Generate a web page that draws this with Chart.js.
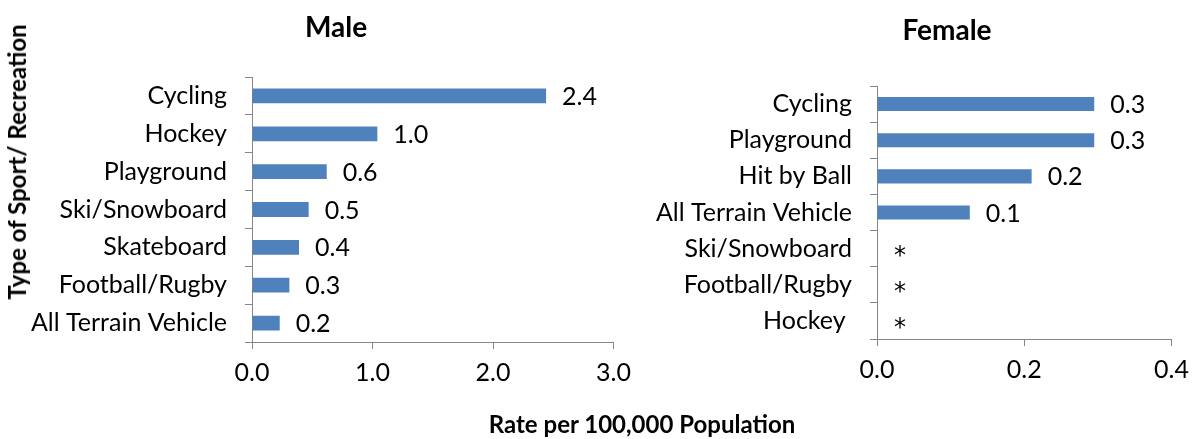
<!DOCTYPE html>
<html>
<head>
<meta charset="utf-8">
<script src="https://cdn.jsdelivr.net/npm/chart.js@4/dist/chart.umd.min.js"></script>
<style>
  body { margin: 0; background: #fff; }
  #wrap { position: relative; width: 1198px; height: 439px; overflow: hidden; font-family: Lato, sans-serif; color: #000; }
  canvas { position: absolute; top: 0; }
  .ttl { position: absolute; white-space: nowrap; font-weight: bold; line-height: 1; transform: translate(-50%, -50%); }
</style>
</head>
<body>
<div id="wrap">
  <canvas id="maleChart" width="640" height="439" style="left:0"></canvas>
  <canvas id="femaleChart" width="558" height="439" style="left:640px"></canvas>
  <div class="ttl" style="left:336px; top:26px; font-size:28px;">Male</div>
  <div class="ttl" style="left:947px; top:29px; font-size:28px;">Female</div>
  <div class="ttl" style="left:17px; top:162px; font-size:24px; transform: translate(-50%, -50%) rotate(-90deg);">Type of Sport/ Recreation</div>
  <div class="ttl" style="left:642px; top:424px; font-size:24px;">Rate per 100,000 Population</div>
</div>
<script>
// male
var maleSports = ['Cycling', 'Hockey', 'Playground', 'Ski/Snowboard', 'Skateboard', 'Football/Rugby', 'All Terrain Vehicle'];
var maleRates = [2.44, 1.04, 0.62, 0.47, 0.39, 0.31, 0.23];
var maleTicks = [0, 1, 2, 3];

// female (* = value suppressed)
var femaleSports = ['Cycling', 'Playground', 'Hit by Ball', 'All Terrain Vehicle', 'Ski/Snowboard', 'Football/Rugby', 'Hockey '];
var femaleRates = [0.295, 0.295, 0.21, 0.126, null, null, null];
var femaleTicks = [0, 0.2, 0.4];

var axisGray = '#868686';
var barBlue = '#4F81BD';
var labelFont = { family: 'Lato', size: 25 };

// value labels at the end of each bar, "*" where there is no value
var endLabels = {
  id: 'endLabels',
  afterDatasetsDraw: function(chart) {
    var ctx = chart.ctx;
    var xs = chart.scales.x, ys = chart.scales.y;
    var vals = chart.data.datasets[0].data;
    ctx.save();
    ctx.fillStyle = '#000';
    ctx.textAlign = 'left';
    for (var i = 0; i < vals.length; i++) {
      var v = vals[i];
      var y = ys.getPixelForValue(i);
      if (v === null) {
        ctx.font = '24px "DejaVu Sans"';
        ctx.textBaseline = 'alphabetic';
        ctx.fillText('*', xs.getPixelForValue(0) + 17, y + 14);
      } else {
        ctx.font = labelFont.size + 'px ' + labelFont.family;
        ctx.textBaseline = 'middle';
        ctx.fillText(v.toFixed(1), xs.getPixelForValue(v) + 16, y + 1);
      }
    }
    ctx.restore();
  }
};

function makeChart(id, sports, rates, ticks, yWidth, padTop, padRight, xHeight) {
  return new Chart(document.getElementById(id), {
    type: 'bar',
    data: {
      labels: sports,
      datasets: [{
        data: rates,
        backgroundColor: barBlue,
        borderWidth: 0,
        barPercentage: 0.39,
        categoryPercentage: 1
      }]
    },
    options: {
      indexAxis: 'y',
      responsive: false,
      animation: false,
      layout: { padding: { top: padTop, right: padRight, left: 0, bottom: 0 } },
      plugins: { legend: { display: false }, tooltip: { enabled: false } },
      scales: {
        y: {
          grid: { drawOnChartArea: false, color: axisGray, tickLength: 7, offset: true },
          border: { color: axisGray, width: 1 },
          ticks: { color: '#000', font: labelFont, padding: 18 },
          afterFit: function(s) { s.width = yWidth; }
        },
        x: {
          min: ticks[0],
          max: ticks[ticks.length - 1],
          afterBuildTicks: function(s) { s.ticks = ticks.map(function(t) { return { value: t }; }); },
          grid: { drawOnChartArea: false, color: axisGray, tickLength: 7 },
          border: { color: axisGray, width: 1 },
          ticks: {
            color: '#000', font: labelFont, padding: 9, maxRotation: 0,
            callback: function(v) { return Number(v).toFixed(1); }
          },
          afterFit: function(s) { s.height = xHeight; }
        }
      }
    },
    plugins: [endLabels]
  });
}

makeChart('maleChart', maleSports, maleRates, maleTicks, 252, 77, 25, 97);
makeChart('femaleChart', femaleSports, femaleRates, femaleTicks, 237, 86, 24, 100);
</script>
</body>
</html>
